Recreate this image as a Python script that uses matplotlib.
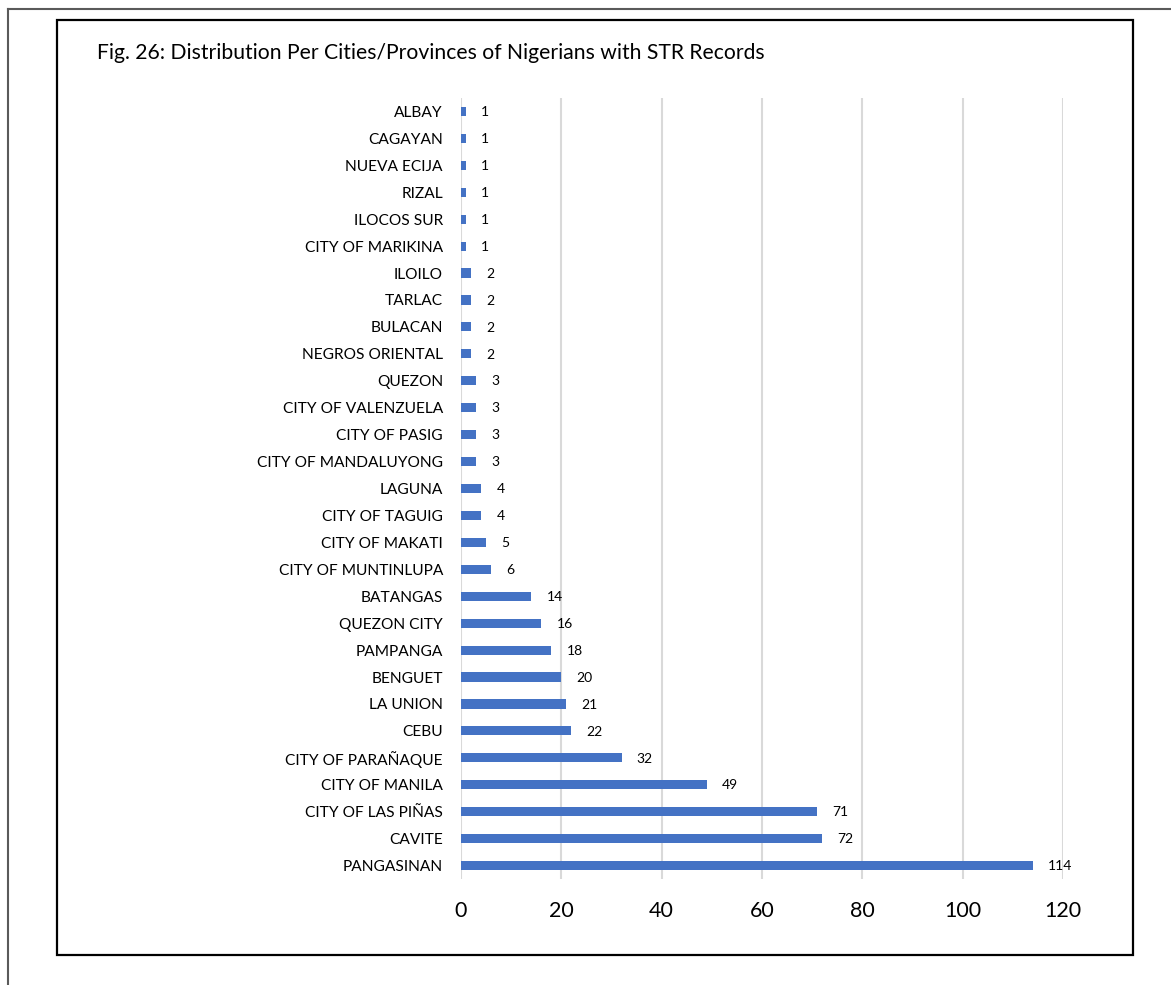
import matplotlib
matplotlib.use("Agg")
import matplotlib.pyplot as plt
from matplotlib.lines import Line2D
from matplotlib.patches import Rectangle

plt.rcParams['font.family'] = ['Lato', 'DejaVu Sans']

# Records per city / province, listed top to bottom as shown
places = [
    "ALBAY", "CAGAYAN", "NUEVA ECIJA", "RIZAL", "ILOCOS SUR", "CITY OF MARIKINA",
    "ILOILO", "TARLAC", "BULACAN", "NEGROS ORIENTAL", "QUEZON",
    "CITY OF VALENZUELA", "CITY OF PASIG", "CITY OF MANDALUYONG", "LAGUNA",
    "CITY OF TAGUIG", "CITY OF MAKATI", "CITY OF MUNTINLUPA", "BATANGAS",
    "QUEZON CITY", "PAMPANGA", "BENGUET", "LA UNION", "CEBU",
    "CITY OF PARAÑAQUE", "CITY OF MANILA", "CITY OF LAS PIÑAS", "CAVITE",
    "PANGASINAN",
]
records = [1, 1, 1, 1, 1, 1, 2, 2, 2, 2, 3, 3, 3, 3, 4, 4, 5, 6, 14,
           16, 18, 20, 21, 22, 32, 49, 71, 72, 114]
x_ticks = [0, 20, 40, 60, 80, 100, 120]
title = "Fig. 26: Distribution Per Cities/Provinces of Nigerians with STR Records"

W, H = 1171, 985
fig = plt.figure(figsize=(W / 100, H / 100), dpi=100)
fig.patch.set_facecolor("white")


def fx(px):
    return px / W


def fy(py):
    return 1 - py / H


# page edge lines
fig.add_artist(Line2D([fx(8), fx(W)], [fy(8.5), fy(8.5)], color="#5a5a5a", lw=1.5))
fig.add_artist(Line2D([fx(8), fx(8)], [fy(8.5), fy(H)], color="#5a5a5a", lw=1.5))
# chart frame
fig.add_artist(Rectangle((fx(57), fy(955)), fx(1133) - fx(57), fy(20) - fy(955),
                         fill=False, edgecolor="black", lw=1.6))

ax_left, ax_right, ax_top, ax_bottom = 461, 1063, 98, 879
ax = fig.add_axes([fx(ax_left), fy(ax_bottom), fx(ax_right) - fx(ax_left),
                   fy(ax_top) - fy(ax_bottom)])

n = len(places)
ypos = [n - 1 - i for i in range(n)]
ax.barh(ypos, records, height=0.34, color="#4472C4", zorder=3)
ax.set_ylim(-0.5, n - 0.5)
ax.set_xlim(0, 120)
ax.set_xticks(x_ticks)
ax.set_xticklabels([str(t) for t in x_ticks])
ax.set_yticks(ypos)
ax.set_yticklabels(places)
ax.grid(axis="x", color="#D9D9D9", lw=1.5, zorder=0)
ax.grid(axis="y", visible=False)
for s in ax.spines.values():
    s.set_visible(False)
ax.tick_params(axis="x", length=0, pad=16, labelsize=15.5, labelcolor="black")
ax.tick_params(axis="y", length=0, pad=13, labelsize=12.5, labelcolor="black")

for y, v in zip(ypos, records):
    ax.annotate(str(v), (v, y), xytext=(11, -0.5), textcoords="offset points",
                ha="left", va="center", fontsize=10, color="black",
                clip_on=False)

ttl = fig.text(fx(97), fy(53), title, ha="left", va="center", fontsize=15,
               color="black")

# size the title and category labels to their measured widths
fig.canvas.draw()
r = fig.canvas.get_renderer()
tw = ttl.get_window_extent(r).width
ttl.set_fontsize(15 * 666 / tw)
lbl = [t for t in ax.get_yticklabels() if t.get_text() == "CITY OF MANDALUYONG"][0]
lw_ = lbl.get_window_extent(r).width
ax.tick_params(axis="y", labelsize=12.5 * 187 / lw_)

fig.savefig("out.png", dpi=100, facecolor="white")
